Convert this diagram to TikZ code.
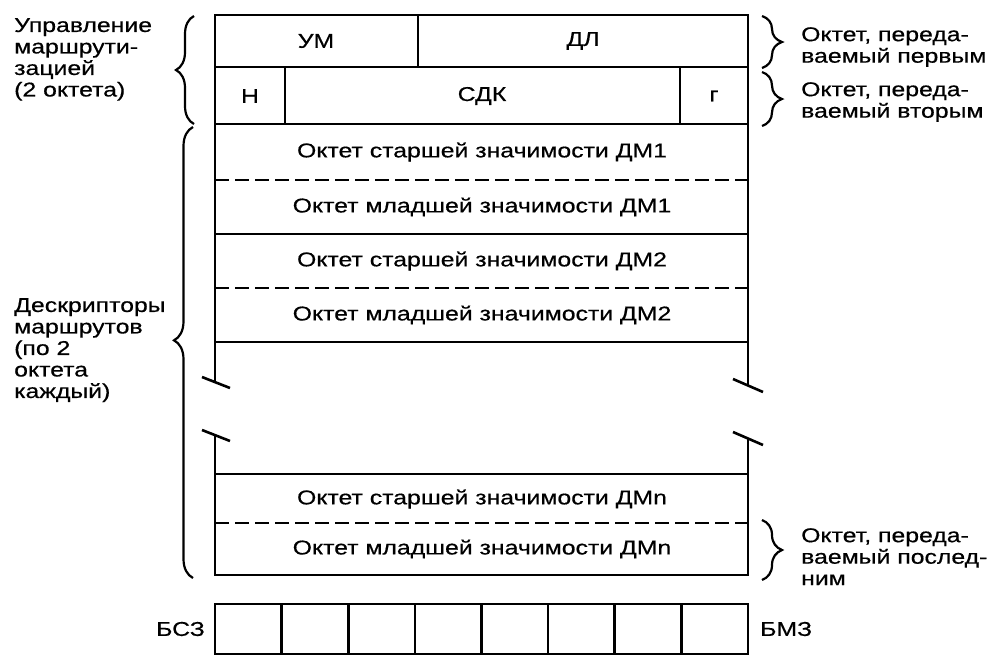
\documentclass[tikz,border=0pt]{standalone}
\usepackage{fontspec}
\setmainfont{Liberation Sans}[FakeStretch=1.24,FakeBold=0.5]
\usetikzlibrary{decorations.pathreplacing}
\begin{document}
\begin{tikzpicture}[x=1pt,y=-1pt,
  frame/.style={line width=2.6pt, line cap=butt},
  dashline/.style={line width=2.8pt, dash pattern=on 14pt off 6pt},
  lbl/.style={font=\fontsize{20}{21.5}\selectfont, inner sep=0pt},
  sidelbl/.style={lbl, align=left, anchor=north west},
  brc/.style={decorate, line width=2.2pt},
  brk/.style={line width=2.6pt}]
\useasboundingbox (0,0) rectangle (990,657);
% named corners
\coordinate (tl) at (215,15);
\coordinate (tr) at (748,15);
\coordinate (bl) at (215,575);
\coordinate (br) at (748,575);
\coordinate (lbreakA) at (215,382);
\coordinate (rbreakA) at (748,386);
\coordinate (lbreakB) at (215,435);
\coordinate (rbreakB) at (748,438);
% outer frame (broken)
\draw[frame] (lbreakA) -- (tl) -- (tr) -- (rbreakA);
\draw[frame] (lbreakB) -- (bl) -- (br) -- (rbreakB);
% break ticks
\draw[brk] (202,377) -- (230,388);
\draw[brk] (733,379) -- (763,392);
\draw[brk] (202,430) -- (230,441);
\draw[brk] (733,432) -- (763,445);
% horizontal lines
\foreach \yy in {67,124,234,342,474} \draw[frame] (215,\yy) -- (748,\yy);
\foreach \yy in {180,288,523} \draw[dashline] (215,\yy) -- (748,\yy);
% vertical dividers
\draw[frame] (418,15) -- (418,67);
\draw[frame] (285,67) -- (285,124);
\draw[frame] (680,67) -- (680,124);
% cell texts
\node[lbl] (um) at (316,41) {УМ};
\node[lbl] (dl) at (583,41) {ДЛ};
\node[lbl] (n) at (250,96) {Н};
\node[lbl] (sdk) at (482,96) {СДК};
\node[lbl] (g) at (714,96) {г};
\node[lbl] (d1s) at (482,152) {Октет старшей значимости ДМ1};
\node[lbl] (d1m) at (482,207) {Октет младшей значимости ДМ1};
\node[lbl] (d2s) at (482,261) {Октет старшей значимости ДМ2};
\node[lbl] (d2m) at (482,315) {Октет младшей значимости ДМ2};
\node[lbl] (dns) at (482,499) {Октет старшей значимости ДМn};
\node[lbl] (dnm) at (482,549) {Октет младшей значимости ДМn};
% braces
\draw[brc, decoration={brace, amplitude=18pt}] (194,124) -- (194,16);
\draw[brc, decoration={brace, amplitude=19pt, aspect=0.527}] (193,578) -- (193,127);
\draw[brc, decoration={brace, amplitude=20pt}] (762,16) -- (762,68);
\draw[brc, decoration={brace, amplitude=20pt}] (762,72) -- (762,126);
\draw[brc, decoration={brace, amplitude=20pt}] (762,520) -- (762,580);
% side labels
\node[sidelbl] (lab1) at (14,18) {Управление\\маршрути-\\зацией\\(2 октета)};
\node[sidelbl] (lab2) at (14,298) {Дескрипторы\\маршрутов\\(по 2\\октета\\каждый)};
\node[sidelbl] (r1) at (801,27) {Октет, переда-\\ваемый первым};
\node[sidelbl] (r2) at (801,82) {Октет, переда-\\ваемый вторым};
\node[sidelbl] (r3) at (801,528) {Октет, переда-\\ваемый послед-\\ним};
% register
\draw[frame] (215,604) rectangle (748,654);
\foreach \i in {1,...,7} \draw[frame] ({215+66.6*\i},604) -- ({215+66.6*\i},654);
\node[lbl, anchor=east] (bsz) at (205,629) {БСЗ};
\node[lbl, anchor=west] (bmz) at (760,629) {БМЗ};
\end{tikzpicture}
\end{document}
